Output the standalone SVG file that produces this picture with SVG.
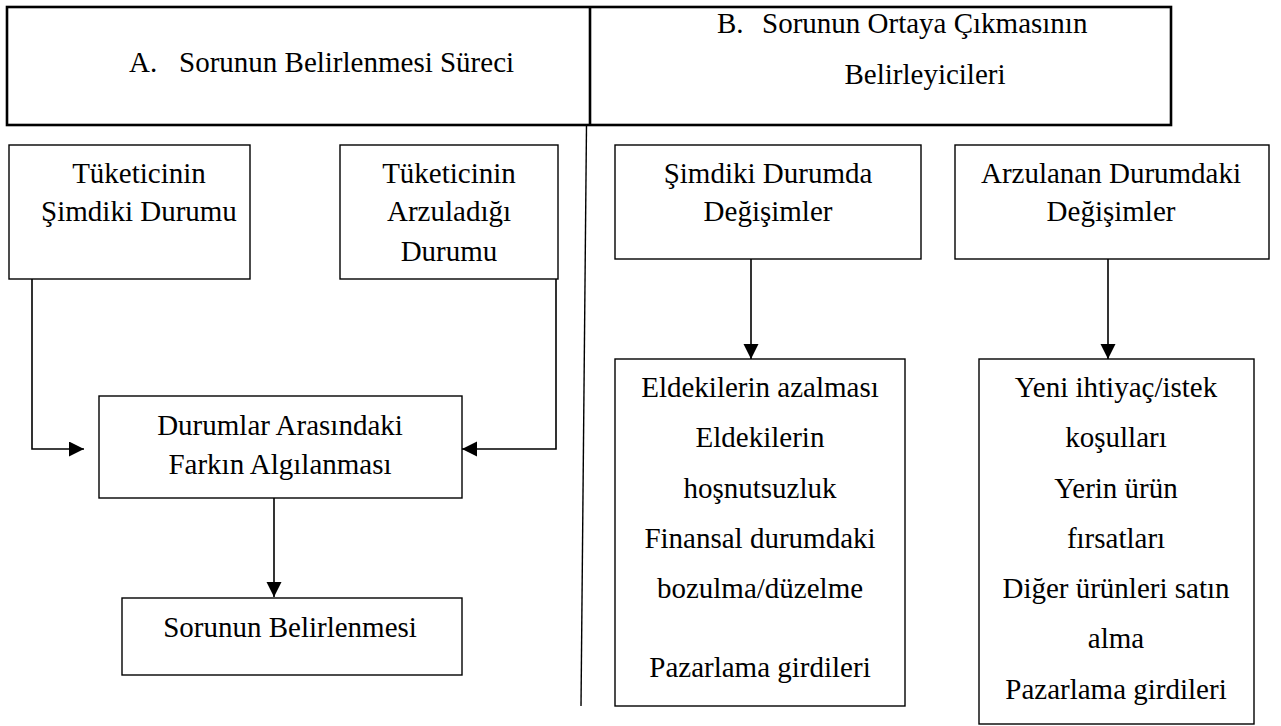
<svg xmlns="http://www.w3.org/2000/svg" width="1281" height="726" viewBox="0 0 1281 726">
<style>
  .box { fill: #fff; stroke: #000; stroke-width: 1.4; }
  .head { fill: none; stroke: #000; stroke-width: 2.6; }
  text { font-family: 'Liberation Serif', serif; font-size: 29px; fill: #000; }
  .t { text-anchor: middle; }
  .conn { fill: none; stroke: #000; stroke-width: 1.6; }
  .div { fill: none; stroke: #000; stroke-width: 1.4; }
</style>
<defs>
  <marker id="arr" markerUnits="userSpaceOnUse" markerWidth="16" markerHeight="16" refX="15" refY="7.5" orient="auto">
    <path d="M0,0 L15,7.5 L0,15 z" fill="#000"/>
  </marker>
</defs>
<rect width="1281" height="726" fill="#fff"/>

<g id="header" font-family="Liberation Serif, serif">
  <rect class="head" x="7" y="7" width="1164" height="118"/>
  <line class="head" x1="590" y1="7" x2="590" y2="125"/>
  <text y="72"><tspan x="129">A.</tspan><tspan x="179">Sorunun Belirlenmesi Süreci</tspan></text>
  <text y="33"><tspan x="717">B.</tspan><tspan x="762">Sorunun Ortaya Çıkmasının</tspan></text>
  <text class="t" x="925" y="84">Belirleyicileri</text>
</g>

<g id="divider">
  <line class="div" x1="586.5" y1="125" x2="581" y2="706"/>
</g>

<g id="n-simdiki">
  <rect class="box" x="9" y="145" width="241" height="134"/>
  <text class="t" x="139" y="183">Tüketicinin</text>
  <text class="t" x="139" y="221">Şimdiki Durumu</text>
</g>

<g id="n-arzuladigi">
  <rect class="box" x="340" y="145" width="218" height="134"/>
  <text class="t" x="449" y="183">Tüketicinin</text>
  <text class="t" x="449" y="221">Arzuladığı</text>
  <text class="t" x="449" y="261">Durumu</text>
</g>

<g id="n-durumlar">
  <rect class="box" x="99" y="396" width="363" height="102"/>
  <text class="t" x="280" y="435">Durumlar Arasındaki</text>
  <text class="t" x="280" y="474">Farkın Algılanması</text>
</g>

<g id="n-sorun">
  <rect class="box" x="122" y="598" width="340" height="77"/>
  <text class="t" x="290" y="637">Sorunun Belirlenmesi</text>
</g>

<g id="n-simdiki-degisim">
  <rect class="box" x="615" y="145" width="306" height="114"/>
  <text class="t" x="768" y="183">Şimdiki Durumda</text>
  <text class="t" x="768" y="221">Değişimler</text>
</g>

<g id="n-arzulanan-degisim">
  <rect class="box" x="955" y="145" width="314" height="114"/>
  <text class="t" x="1111" y="183">Arzulanan Durumdaki</text>
  <text class="t" x="1111" y="221">Değişimler</text>
</g>

<g id="n-eldekiler">
  <rect class="box" x="615" y="359" width="290" height="347"/>
  <text class="t" x="760" y="397">Eldekilerin azalması</text>
  <text class="t" x="760" y="447">Eldekilerin</text>
  <text class="t" x="760" y="498">hoşnutsuzluk</text>
  <text class="t" x="760" y="548">Finansal durumdaki</text>
  <text class="t" x="760" y="598">bozulma/düzelme</text>
  <text class="t" x="760" y="677">Pazarlama girdileri</text>
</g>

<g id="n-yeni">
  <rect class="box" x="979" y="359" width="275" height="365"/>
  <text class="t" x="1116" y="397">Yeni ihtiyaç/istek</text>
  <text class="t" x="1116" y="447">koşulları</text>
  <text class="t" x="1116" y="498">Yerin ürün</text>
  <text class="t" x="1116" y="548">fırsatları</text>
  <text class="t" x="1116" y="598">Diğer ürünleri satın</text>
  <text class="t" x="1116" y="648">alma</text>
  <text class="t" x="1116" y="699">Pazarlama girdileri</text>
</g>

<g id="connectors">
  <polyline class="conn" points="32,279 32,449 84,449" marker-end="url(#arr)"/>
  <polyline class="conn" points="556,279 556,449 462,449" marker-end="url(#arr)"/>
  <line class="conn" x1="274" y1="498" x2="274" y2="597" marker-end="url(#arr)"/>
  <line class="conn" x1="751" y1="259" x2="751" y2="359" marker-end="url(#arr)"/>
  <line class="conn" x1="1108" y1="259" x2="1108" y2="359" marker-end="url(#arr)"/>
</g>
</svg>
